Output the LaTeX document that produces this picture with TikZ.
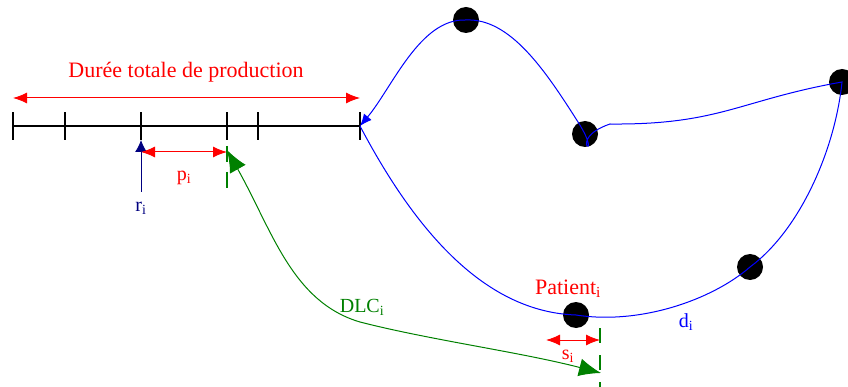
\documentclass[tikz,border=0pt]{standalone}
\usepackage{fontspec}
\setmainfont{Liberation Serif}
\usetikzlibrary{arrows.meta}
\begin{document}
\begin{tikzpicture}[x=1pt,y=-1pt,
  dot/.style={circle,fill=black,minimum size=26pt,inner sep=0pt},
  tl/.style={line width=1.8pt},
  redarr/.style={red,line width=1pt,{Latex[length=14pt,width=11pt]}-{Latex[length=14pt,width=11pt]}},
  lab/.style={font=\fontsize{20}{24}\selectfont,inner sep=0pt},
  gdash/.style={draw=green!50!black,line width=1.6pt,dash pattern=on 16pt off 10pt},
  gcol/.style={green!50!black}
]
\useasboundingbox (0,0) rectangle (848,387);
% timeline
\coordinate (t0) at (13,126);
\coordinate (t1) at (65,126);
\coordinate (t2) at (141,126);
\coordinate (t3) at (227,126);
\coordinate (t4) at (258,126);
\coordinate (t5) at (360,126);
\draw[tl] (t0) -- (t5);
\foreach \t in {t0,t1,t2,t3,t4,t5}{\draw[tl] ([yshift=-14pt]\t) -- ([yshift=14pt]\t);}
% total duration
\coordinate (a0) at (13,98);
\coordinate (a1) at (360,98);
\draw[redarr] (a0) -- (a1);
\node[lab,red,font=\fontsize{22}{26}\selectfont] (title) at (186,72) {Durée totale de production};
% r_i
\coordinate (rbot) at (141,192);
\coordinate (rtop) at (141,140);
\draw[draw={rgb,255:red,0;green,0;blue,128},line width=1pt,-{Latex[length=12pt,width=12pt]}] (rbot) -- (rtop);
\node[lab,text={rgb,255:red,0;green,0;blue,128}] (ri) at (141,208) {r\textsubscript{i}};
% p_i
\coordinate (p0) at (141,152);
\coordinate (p1) at (227,152);
\draw[redarr] (p0) -- (p1);
\node[lab,red] (pi) at (184,178) {p\textsubscript{i}};
% green dashed marks
\coordinate (g0) at (227,146);
\coordinate (g1) at (227,192);
\draw[gdash] (g0) -- (g1);
\coordinate (h0) at (600,328);
\coordinate (h1) at (600,390);
\draw[gdash,dash pattern=on 15pt off 12pt] (h0) -- (h1);
% dots
\node[dot] (d1) at (466,20) {};
\node[dot] (d2) at (585,134) {};
\node[dot] (d3) at (842,82) {};
\node[dot] (d4) at (750,267) {};
\node[dot] (d5) at (576,315) {};
% blue tour
\draw[blue,line width=1pt,-{Latex[length=12pt,width=10pt]}]
  (t5) .. controls (420,240) and (490,312) .. (d5.center)
  .. controls (640,325) and (712,300) .. (d4.center)
  .. controls (800,230) and (835,150) .. (d3.center)
  .. controls (740,100) and (720,125) .. (610,124)
  .. controls (563,140) and (606,166) .. (578,122)
  .. controls (545,70) and (510,18) .. (d1.center)
  .. controls (420,18) and (392,88) .. (t5);
\node[lab,blue] (di) at (686,322) {d\textsubscript{i}};
% patient & s_i
\node[lab,red,font=\fontsize{22}{26}\selectfont] (pat) at (568,289) {Patient\textsubscript{i}};
\coordinate (s0) at (546,340);
\coordinate (s1) at (600,340);
\draw[redarr] (s0) -- (s1);
\node[lab,red] (si) at (568,356) {s\textsubscript{i}};
% DLC
\coordinate (c0) at (227,150);
\coordinate (c1) at (601,373);
\draw[gcol,line width=1pt,{Latex[length=22pt,width=18pt]}-{Latex[length=22pt,width=18pt]}]
  (c0) .. controls (272,230) and (292,302) .. (360,322)
  .. controls (430,340) and (520,352) .. (c1);
\node[lab,gcol] (dlc) at (362,307) {DLC\textsubscript{i}};
\end{tikzpicture}
\end{document}
